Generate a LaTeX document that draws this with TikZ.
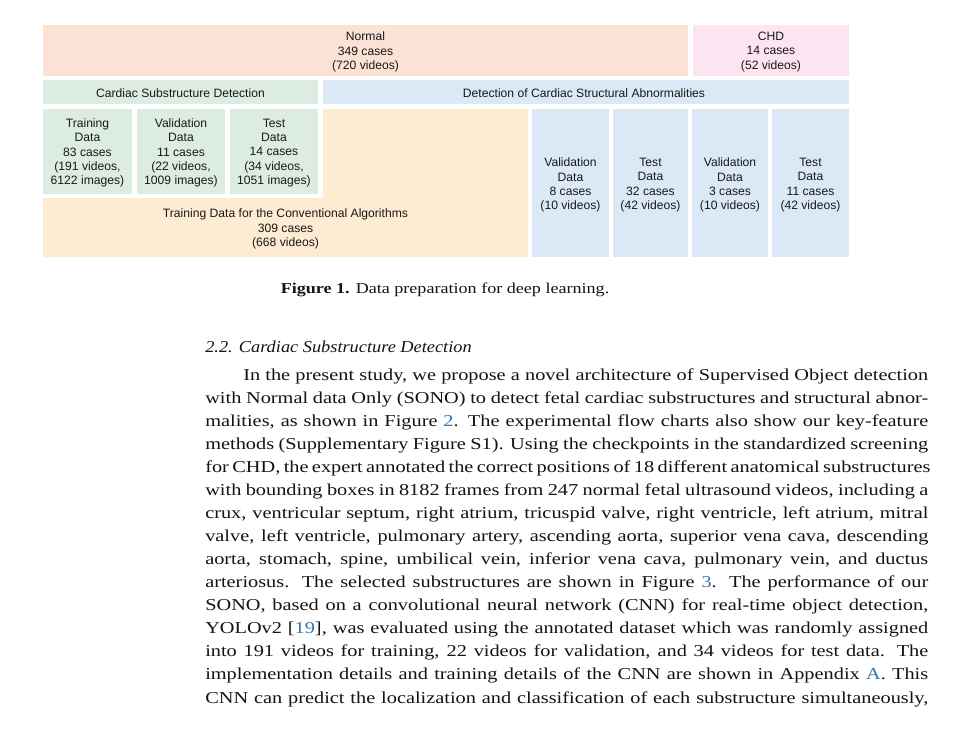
\documentclass[tikz,border=0pt]{standalone}
\usepackage{fontspec}
\usepackage{graphicx}
\setmainfont{Liberation Serif}
\newfontfamily\figsans{Liberation Sans}
\definecolor{normalfill}{RGB}{251,226,213}
\definecolor{chdfill}{RGB}{252,229,240}
\definecolor{greenfill}{RGB}{221,236,226}
\definecolor{bluefill}{RGB}{219,233,246}
\definecolor{orangefill}{RGB}{253,236,209}
\definecolor{figtext}{RGB}{25,25,25}
\definecolor{bodytext}{RGB}{20,20,20}
\definecolor{linkblue}{RGB}{52,118,176}
\newcommand{\lnk}[1]{\textcolor{linkblue}{#1}}
% one justified text line: widened serif face, spread to the measure
\newcommand{\fullline}[1]{\scalebox{1.22}[1]{\makebox[444.5pt][s]{#1}}}
\newcommand{\firstline}[1]{\scalebox{1.22}[1]{\makebox[421.1pt][s]{#1}}}
\begin{document}
\begin{tikzpicture}[x=0.75pt,y=-0.75pt,
  lbl/.style={align=center, inner sep=0, text=figtext,
    font=\figsans\fontsize{9.1}{10.7}\selectfont},
  bodyline/.style={anchor=base west, inner sep=0, text=bodytext,
    font=\fontsize{12.5}{14}\selectfont}]
\useasboundingbox (0,0) rectangle (960,744);
\fill[white] (0,0) rectangle (960,744);

% --- top row: overall data
\fill[normalfill] (43,25) rectangle (688,76);
\fill[chdfill] (693,25) rectangle (849,76);
\node[lbl] (normal) at (365.5,52) {Normal\\349 cases\\(720 videos)};
\node[lbl] (chd) at (771,52) {CHD\\14 cases\\(52 videos)};

% --- second row: the two tasks
\fill[greenfill] (43,80) rectangle (318,104);
\fill[bluefill] (323,80) rectangle (849,104);
\node[lbl] (subdet) at (180.5,93.5) {Cardiac Substructure Detection};
\node[lbl] (abndet) at (584,93.5) {Detection of Cardiac Structural Abnormalities};

% --- substructure detection splits
\fill[greenfill] (43,109) rectangle (132,194);
\fill[greenfill] (137,109) rectangle (225,194);
\fill[greenfill] (230,109) rectangle (318,194);
\node[lbl] (sdtrain) at (87.5,153) {Training\\Data\\83 cases\\(191 videos,\\6122 images)};
\node[lbl] (sdval) at (181,153) {Validation\\Data\\11 cases\\(22 videos,\\1009 images)};
\node[lbl] (sdtest) at (274,153) {Test\\Data\\14 cases\\(34 videos,\\1051 images)};

% --- conventional algorithm training data (L-shaped region)
\fill[orangefill] (323,109) -- (528,109) -- (528,257) -- (43,257)
  -- (43,198) -- (323,198) -- cycle;
\node[lbl] (convtrain) at (285.5,229)
  {Training Data for the Conventional Algorithms\\309 cases\\(668 videos)};

% --- abnormality detection splits
\fill[bluefill] (532,109) rectangle (609,257);
\fill[bluefill] (613,109) rectangle (688,257);
\fill[bluefill] (692,109) rectangle (768,257);
\fill[bluefill] (772,109) rectangle (849,257);
\node[lbl] (nval) at (570.5,185) {Validation\\Data\\8 cases\\(10 videos)};
\node[lbl] (ntest) at (650.5,185) {Test\\Data\\32 cases\\(42 videos)};
\node[lbl] (cval) at (730,185) {Validation\\Data\\3 cases\\(10 videos)};
\node[lbl] (ctest) at (810.5,185) {Test\\Data\\11 cases\\(42 videos)};

% --- caption
\node[anchor=base, inner sep=0, text=bodytext, font=\fontsize{11.3}{13}\selectfont]
  (caption) at (445,293) {\scalebox{1.2}[1]{\textbf{Figure 1.} Data preparation for deep learning.}};

% --- section heading
\node[bodyline, font=\fontsize{12.5}{14}\selectfont\itshape] (heading) at (205,352)
  {\scalebox{1.1}[1]{2.2. Cardiac Substructure Detection}};

% --- body paragraph, one justified line per node
\node[bodyline] (l1) at (243,380.0) {\firstline{In the present study, we propose a novel architecture of Supervised Object detection}};
\node[bodyline] (l2) at (205,403.1) {\fullline{with Normal data Only (SONO) to detect fetal cardiac substructures and structural abnor-}};
\node[bodyline] (l3) at (205,426.1) {\fullline{malities, as shown in Figure~\lnk{2}. The experimental flow charts also show our key-feature}};
\node[bodyline] (l4) at (205,449.2) {\fullline{methods (Supplementary Figure S1). Using the checkpoints in the standardized screening}};
\node[bodyline] (l5) at (205,472.3) {\fullline{for CHD, the expert annotated the correct positions of 18 different anatomical substructures}};
\node[bodyline] (l6) at (205,495.4) {\fullline{with bounding boxes in 8182 frames from 247 normal fetal ultrasound videos, including a}};
\node[bodyline] (l7) at (205,518.4) {\fullline{crux, ventricular septum, right atrium, tricuspid valve, right ventricle, left atrium, mitral}};
\node[bodyline] (l8) at (205,541.5) {\fullline{valve, left ventricle, pulmonary artery, ascending aorta, superior vena cava, descending}};
\node[bodyline] (l9) at (205,564.6) {\fullline{aorta, stomach, spine, umbilical vein, inferior vena cava, pulmonary vein, and ductus}};
\node[bodyline] (l10) at (205,587.6) {\fullline{arteriosus. The selected substructures are shown in Figure~\lnk{3}. The performance of our}};
\node[bodyline] (l11) at (205,610.7) {\fullline{SONO, based on a convolutional neural network (CNN) for real-time object detection,}};
\node[bodyline] (l12) at (205,633.8) {\fullline{YOLOv2 [\lnk{19}], was evaluated using the annotated dataset which was randomly assigned}};
\node[bodyline] (l13) at (205,656.9) {\fullline{into 191 videos for training, 22 videos for validation, and 34 videos for test data. The}};
\node[bodyline] (l14) at (205,679.9) {\fullline{implementation details and training details of the CNN are shown in Appendix~\lnk{A}. This}};
\node[bodyline] (l15) at (205,703.0) {\fullline{CNN can predict the localization and classification of each substructure simultaneously,}};
\end{tikzpicture}
\end{document}
